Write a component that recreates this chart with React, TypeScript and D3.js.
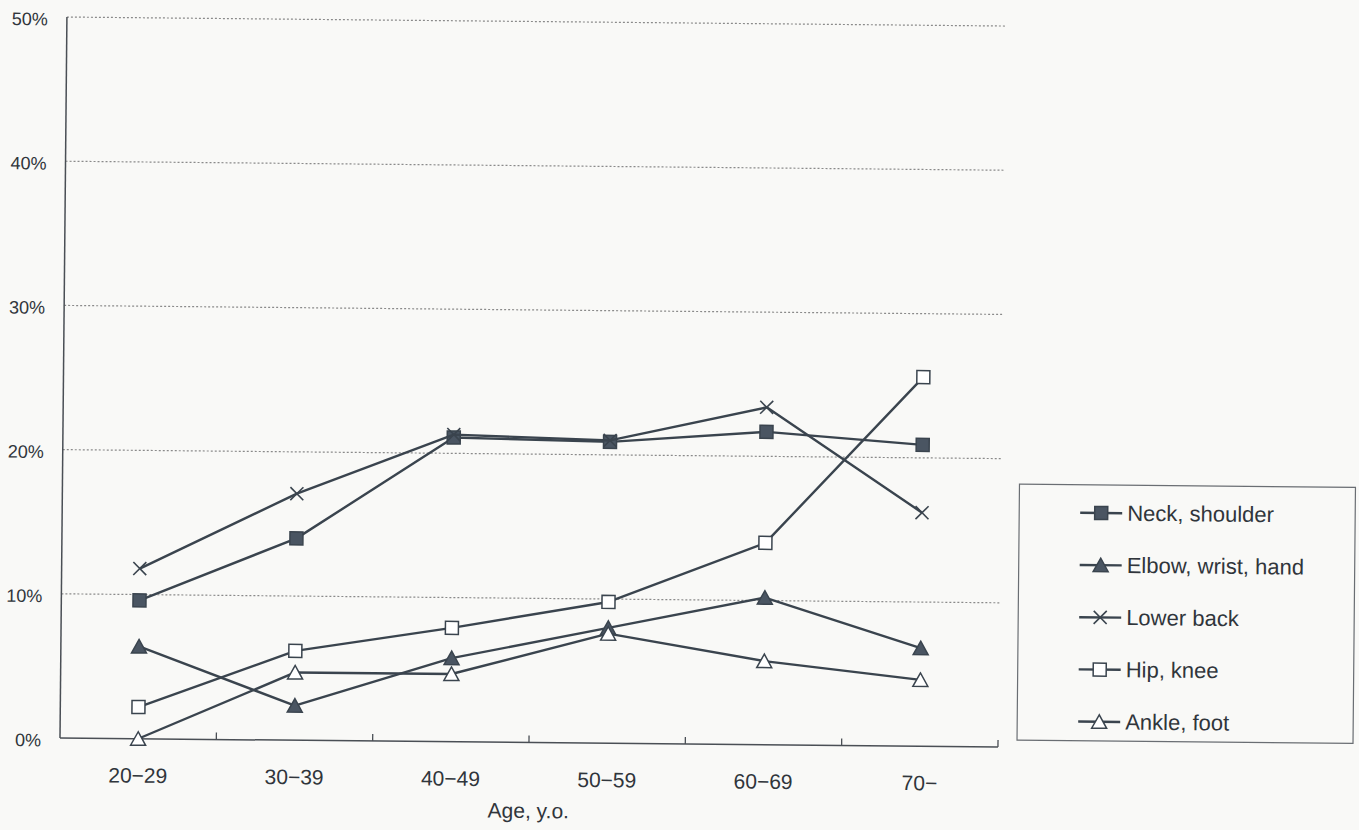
import React from "react";
import * as d3 from "d3";

const categories = ["20-29", "30-39", "40-49", "50-59", "60-69", "70-"];
const neckShoulder = [9.6, 14.0, 21.1, 20.9, 21.7, 20.9];
const elbowWristHand = [6.4, 2.4, 5.8, 8.0, 10.2, 6.8];
const lowerBack = [11.8, 17.1, 21.3, 21.0, 23.4, 16.2];
const hipKnee = [2.2, 6.2, 7.9, 9.8, 14.0, 25.6];
const ankleFoot = [0, 4.7, 4.7, 7.6, 5.8, 4.6];
const yTicks = [0, 10, 20, 30, 40, 50];
const seriesNames = ["Neck, shoulder", "Elbow, wrist, hand", "Lower back", "Hip, knee", "Ankle, foot"];
const markerTypes = ["filledSquare", "filledTriangle", "cross", "openSquare", "openTriangle"];
const xTitle = "Age, y.o.";

const W = 1359;
const H = 830;
const LEFT = 60;
const RIGHT = 998;
const TOP = 17;
const BOTTOM = 738;
const BG = "#f9f9f7";
const LINE = "#3a444e";
const FILL = "#4a5562";
const TEXT = "#30353b";
const FONT = "'Liberation Sans', Arial, sans-serif";

const series = [neckShoulder, elbowWristHand, lowerBack, hipKnee, ankleFoot].map((values, i) => ({
  name: seriesNames[i],
  values,
  marker: markerTypes[i],
}));

function Marker({ type, cx, cy }: { type: string; cx: number; cy: number }) {
  const s = 6.5;
  if (type === "filledSquare" || type === "openSquare") {
    return (
      <rect
        x={cx - s}
        y={cy - s}
        width={2 * s}
        height={2 * s}
        fill={type === "filledSquare" ? FILL : "#ffffff"}
        stroke={LINE}
        strokeWidth={1.5}
      />
    );
  }
  if (type === "filledTriangle" || type === "openTriangle") {
    const pts = `${cx},${cy - 7} ${cx - 7.5},${cy + 6.5} ${cx + 7.5},${cy + 6.5}`;
    return (
      <polygon
        points={pts}
        fill={type === "filledTriangle" ? FILL : "#ffffff"}
        stroke={LINE}
        strokeWidth={1.5}
        strokeLinejoin="miter"
      />
    );
  }
  return (
    <g stroke={LINE} strokeWidth={1.6}>
      <line x1={cx - s} y1={cy - s} x2={cx + s} y2={cy + s} />
      <line x1={cx - s} y1={cy + s} x2={cx + s} y2={cy - s} />
    </g>
  );
}

export default function App() {
  const x = d3.scaleBand<string>().domain(categories).range([LEFT, RIGHT]).padding(0);
  const y = d3.scaleLinear().domain([0, 50]).range([BOTTOM, TOP]);
  const cx = (c: string) => (x(c) as number) + x.bandwidth() / 2;
  const line = d3
    .line<number>()
    .x((_, i) => cx(categories[i]))
    .y((v) => y(v));

  const tickXs = categories.map((c) => (x(c) as number) + x.bandwidth()).filter((v) => v > LEFT);

  const legendX = 1017;
  const legendY = 475;
  const legendW = 336;
  const legendH = 256;
  const rowY0 = 503;
  const rowStep = 52.2;

  return (
    <svg
      width={W}
      height={H}
      style={{ position: "absolute", left: 0, top: 0, display: "block" }}
      fontFamily={FONT}
    >
      <rect x={0} y={0} width={W} height={H} fill={BG} />
      <g transform={`rotate(0.55, ${LEFT}, ${BOTTOM})`}>
        {yTicks
          .filter((t) => t > 0)
          .map((t) => (
            <line
              key={`g${t}`}
              x1={LEFT}
              x2={RIGHT}
              y1={y(t)}
              y2={y(t)}
              stroke="#8a8a8a"
              strokeWidth={1.2}
              strokeDasharray="2,2"
            />
          ))}
        <line x1={LEFT} x2={LEFT} y1={TOP} y2={BOTTOM} stroke="#4a4f55" strokeWidth={1.5} />
        <line x1={LEFT} x2={RIGHT} y1={BOTTOM} y2={BOTTOM} stroke="#4a4f55" strokeWidth={1.5} />
        {tickXs.map((tx, i) => (
          <line key={`t${i}`} x1={tx} x2={tx} y1={BOTTOM} y2={BOTTOM - 7} stroke="#4a4f55" strokeWidth={1.3} />
        ))}
        {yTicks.map((t) => (
          <text key={`yl${t}`} x={41} y={y(t) + 8.5} textAnchor="end" fontSize={18} fill={TEXT}>
            {`${t}%`}
          </text>
        ))}
        {categories.map((c) => (
          <text key={`xl${c}`} x={cx(c)} y={BOTTOM + 44} textAnchor="middle" fontSize={21} fill={TEXT}>
            {c.replace("-", "\u2212")}
          </text>
        ))}
        <text x={529} y={813.5} textAnchor="middle" fontSize={21} fill={TEXT}>
          {xTitle}
        </text>

        {series.map((s) => (
          <g key={s.name}>
            <path d={line(s.values) || ""} fill="none" stroke={LINE} strokeWidth={2.4} strokeLinejoin="round" />
            {s.values.map((v, i) => (
              <Marker key={i} type={s.marker} cx={cx(categories[i])} cy={y(v)} />
            ))}
          </g>
        ))}

        <rect x={legendX} y={legendY} width={legendW} height={legendH} fill={BG} stroke="#6a6e73" strokeWidth={1.2} />
        {series.map((s, i) => {
          const ry = rowY0 + i * rowStep;
          return (
            <g key={`lg${i}`}>
              <line x1={1078} x2={1120} y1={ry} y2={ry} stroke={LINE} strokeWidth={2.4} />
              <Marker type={s.marker} cx={1099} cy={ry} />
              <text x={1125} y={ry + 7.5} fontSize={22} fill={TEXT}>
                {s.name}
              </text>
            </g>
          );
        })}
      </g>
    </svg>
  );
}
